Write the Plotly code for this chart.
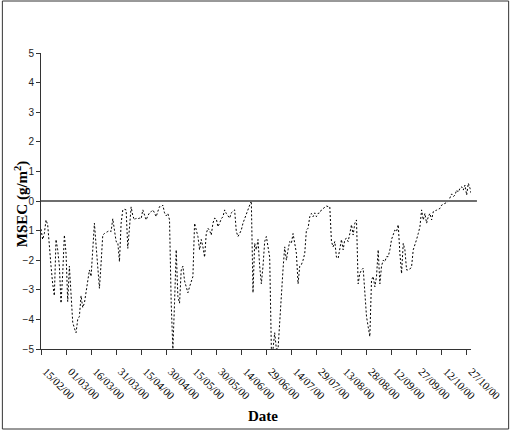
import pandas as pd
import plotly.graph_objects as go

# ---- data ----
start_date = "2000-02-15"
day_offset = list(range(0, 259))
msec = [
    -0.95, -1.3, -1.1, -0.64, -0.8, -1.65, -2.2, -2.8, -3.2, -1.3,
    -1.65, -2.2, -3.45, -2.45, -1.15, -1.77, -3.4, -2.2, -3.23, -4.1,
    -4.3, -4.45, -4.0, -3.9, -3.2, -3.6, -3.45, -3.1, -2.8, -2.33,
    -2.55, -1.6, -0.75, -1.5, -2.2, -2.95, -2.1, -1.15, -1.1, -1.05,
    -1.03, -1.0, -1.03, -0.6, -1.0, -1.37, -1.4, -2.05, -0.75, -0.3,
    -0.28, -0.3, -1.6, -0.87, -0.2, -0.5, -0.64, -0.58, -0.6, -0.58,
    -0.6, -0.3, -0.5, -0.64, -0.5, -0.4, -0.36, -0.3, -0.4, -0.53,
    -0.35, -0.19, -0.2, -0.14, -0.4, -0.5, -0.42, -0.64, -3.45, -5.0,
    -3.45, -1.65, -3.23, -3.45, -2.33, -2.2, -2.7, -2.9, -3.1, -2.9,
    -2.7, -2.55, -0.75, -1.0, -1.2, -1.65, -1.3, -1.55, -1.9, -1.1,
    -0.92, -1.0, -1.15, -0.75, -0.58, -0.6, -0.87, -0.75, -0.6, -0.53,
    -0.3, -0.42, -0.5, -0.58, -0.4, -0.36, -0.3, -1.03, -1.2, -1.1,
    -0.98, -0.75, -0.6, -0.47, -0.3, -0.19, 0.01, -3.1, -1.43, -1.65,
    -1.3, -2.2, -2.8, -2.2, -1.37, -1.2, -1.55, -1.9, -5.0, -5.0,
    -4.45, -5.0, -5.0, -4.0, -3.1, -2.3, -1.55, -2.0, -1.65, -1.37,
    -1.43, -1.1, -1.43, -1.77, -2.8, -2.2, -2.15, -2.0, -1.77, -0.98,
    -0.92, -0.53, -0.42, -0.53, -0.4, -0.53, -0.42, -0.4, -0.3, -0.25,
    -0.19, -0.17, -0.19, -0.19, -1.37, -1.55, -1.37, -1.9, -1.94, -1.65,
    -1.3, -1.65, -1.3, -1.26, -1.37, -1.1, -0.8, -1.15, -0.75, -0.64,
    -2.8, -2.45, -2.33, -2.27, -3.0, -3.9, -4.25, -4.58, -2.67, -2.55,
    -2.9, -2.55, -1.65, -2.8, -2.2, -2.0, -2.05, -1.88, -1.88, -1.65,
    -1.3, -1.1, -0.98, -1.03, -0.8, -1.77, -2.45, -1.43, -1.65, -2.33,
    -2.33, -2.3, -2.22, -1.65, -1.5, -1.3, -1.1, -0.87, -0.3, -0.64,
    -0.42, -0.75, -0.53, -0.42, -0.64, -0.36, -0.36, -0.3, -0.28, -0.25,
    -0.14, -0.1, -0.08, -0.05, -0.02, 0.09, 0.24, 0.15, 0.2, 0.37,
    0.3, 0.43, 0.48, 0.37, 0.54, 0.2, 0.6, 0.43, 0.2,
]

tick_dates = ["2000-02-15", "2000-03-01", "2000-03-16", "2000-03-31", "2000-04-15",
              "2000-04-30", "2000-05-15", "2000-05-30", "2000-06-14", "2000-06-29",
              "2000-07-14", "2000-07-29", "2000-08-13", "2000-08-28", "2000-09-12",
              "2000-09-27", "2000-10-12", "2000-10-27"]
tick_labels = ["15/02/00", "01/03/00", "16/03/00", "31/03/00", "15/04/00",
               "30/04/00", "15/05/00", "30/05/00", "14/06/00", "29/06/00",
               "14/07/00", "29/07/00", "13/08/00", "28/08/00", "12/09/00",
               "27/09/00", "12/10/00", "27/10/00"]
y_ticks = [-5, -4, -3, -2, -1, 0, 1, 2, 3, 4, 5]

dates = pd.Timestamp(start_date) + pd.to_timedelta(day_offset, unit="D")

# ---- figure ----
W, H = 515, 431
L, R, T, B = 41, 40, 53, 82
pw, ph = W - L - R, H - T - B

def px_x(px):
    return (px - L) / pw

def px_y(py):
    return (H - B - py) / ph

fig = go.Figure()
fig.add_trace(go.Scatter(
    x=dates, y=msec, mode="lines",
    line=dict(color="black", width=1, dash="2px,2px"),
    showlegend=False, hoverinfo="skip",
))

fig.update_layout(
    width=W, height=H,
    margin=dict(l=L, r=R, t=T, b=B, pad=0),
    paper_bgcolor="white", plot_bgcolor="white",
    showlegend=False,
    xaxis=dict(
        type="date",
        range=[pd.Timestamp(start_date), pd.Timestamp(start_date) + pd.Timedelta(days=257.6)],
        tickmode="array", tickvals=tick_dates, ticktext=tick_labels,
        tickangle=45,
        tickfont=dict(family="Liberation Serif", size=11, color="black"),
        ticks="outside", ticklen=5, tickcolor="#333333", tickwidth=1,
        ticklabelstandoff=6, ticklabelshift=5,
        showline=True, linecolor="#333333", linewidth=1,
        showgrid=False, zeroline=False, fixedrange=True,
    ),
    yaxis=dict(
        range=[-5, 5], tickmode="array", tickvals=y_ticks,
        tickfont=dict(family="Liberation Sans", size=10, color="#222222"),
        ticks="outside", ticklen=4, tickcolor="#333333", tickwidth=1,
        showline=True, linecolor="#333333", linewidth=1,
        showgrid=False, zeroline=False, fixedrange=True,
    ),
    shapes=[
        dict(type="line", xref="paper", yref="y", x0=0, x1=px_x(481), y0=0, y1=0,
             line=dict(color="#6e6e6e", width=2)),
        dict(type="rect", xref="paper", yref="paper",
             x0=px_x(2), x1=px_x(513), y0=px_y(429), y1=px_y(1),
             line=dict(color="#333333", width=1)),
    ],
    annotations=[
        dict(text="<b>MSEC (g/m<sup>2</sup>)</b>", xref="paper", yref="paper",
             x=px_x(21), y=px_y(204), textangle=-90, showarrow=False,
             xanchor="center", yanchor="middle",
             font=dict(family="Liberation Serif", size=15, color="black")),
        dict(text="<b>Date</b>", xref="paper", yref="paper",
             x=px_x(265), y=px_y(416), showarrow=False,
             xanchor="center", yanchor="middle",
             font=dict(family="Liberation Serif", size=15, color="black")),
    ],
)

fig.write_html("out.html",
               config={"displayModeBar": False, "staticPlot": True},
               post_script="document.body.style.margin='0';document.body.style.overflow='hidden';")
